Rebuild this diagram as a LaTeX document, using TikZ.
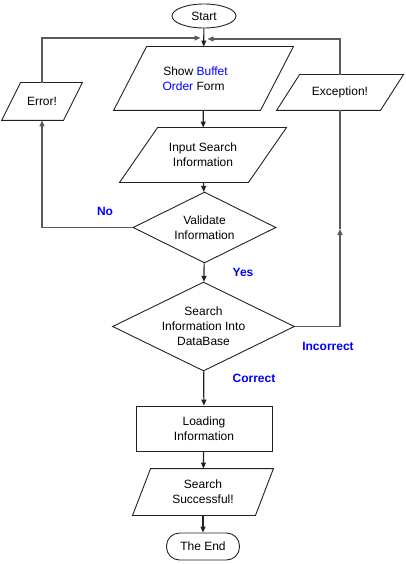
\documentclass[tikz,border=0pt]{standalone}
\usepackage{fontspec}
\setmainfont{Liberation Sans}
\usetikzlibrary{shapes.geometric, arrows.meta, positioning, calc}
\definecolor{labelblue}{HTML}{0000FF}
\definecolor{linegray}{HTML}{5A5A5A}
\definecolor{edgeblack}{HTML}{222222}

\tikzset{
  basebox/.style={draw=edgeblack, line width=0.9pt, inner sep=0pt, align=center,
    font=\fontsize{12}{15}\selectfont},
  iobox/.style={basebox, draw=none, rectangle},
  decision/.style={basebox, diamond, aspect=2},
  process/.style={basebox, rectangle},
  terminal/.style={basebox, ellipse},
  edgeline/.style={draw=edgeblack, line width=0.9pt},
  flow/.style={draw=linegray, line width=1.2pt, -{Triangle[length=6pt,width=5pt]}},
  spine/.style={flow, draw=edgeblack},
  plainflow/.style={draw=linegray, line width=1.2pt},
  answer/.style={text=labelblue, font=\fontsize{12}{14}\selectfont\bfseries}
}

% slanted outline round an io node: #1 node, #2 slant
\newcommand\iooutline[2]{%
  \draw[edgeline] ($(#1.south west)+(-#2/2,0)$) -- ($(#1.south east)+(-#2/2,0)$)
    -- ($(#1.north east)+(#2/2,0)$) -- ($(#1.north west)+(#2/2,0)$) -- cycle;}

\begin{document}
\begin{tikzpicture}[x=1pt, y=-1pt]
  \useasboundingbox (0,0) rectangle (406,564);

  % shapes
  \node[terminal, minimum width=64pt, minimum height=24pt] (start) at (204,16) {Start};
  \node[iobox, minimum width=146pt, minimum height=63pt] (showform) at (203.5,78.5)
        {Show \textcolor{labelblue}{Buffet}\hspace*{16pt}\\\textcolor{labelblue}{Order} Form\hspace*{20pt}};
  \node[iobox, minimum width=61pt, minimum height=37pt] (error) at (42,101.5) {Error!};
  \node[iobox, minimum width=103pt, minimum height=35pt] (exception) at (340,92.5) {Exception!};
  \node[iobox, minimum width=128pt, minimum height=54pt] (input) at (203,155) {Input Search\\Information};
  \node[decision, minimum width=143pt, minimum height=71pt] (validate) at (204.5,227.5)
        {Validate\\Information};
  \node[decision, minimum width=182pt, minimum height=89pt] (search) at (203.5,326.5)
        {Search\\Information Into\\DataBase};
  \node[process, minimum width=136pt, minimum height=45pt] (loading) at (204,428.5)
        {Loading\\Information};
  \node[iobox, minimum width=122pt, minimum height=46pt] (success) at (203,492)
        {Search\\Successful!};
  \node[process, rounded corners=13pt, minimum width=73pt, minimum height=27pt] (theend) at (203,546.5)
        {The End};

  \iooutline{showform}{33}
  \iooutline{error}{19}
  \iooutline{exception}{23}
  \iooutline{input}{38}
  \iooutline{success}{18}

  % junction points
  \coordinate (joinL) at (200.5,38);
  \coordinate (joinR) at (207.5,39);
  \coordinate (excmid) at (340,229);

  % connectors
  \draw[spine] (start) -- (showform);
  \draw[flow] (error.north) |- (joinL);
  \draw[flow] (exception.north) |- (joinR);
  \draw[spine] (showform) -- (input);
  \draw[spine] (input) -- (validate);
  \draw[flow] (validate.west) -| (error.south);
  \draw[spine] (validate) -- (search);
  \draw[flow] (search.east) -| (excmid);
  \draw[plainflow] (excmid) -- (exception.south);
  \draw[spine] (search) -- (loading);
  \draw[spine] (loading) -- (success);
  \draw[spine] (success) -- (theend);

  % answers
  \node[answer] (no) at (105,211) {No};
  \node[answer] (yes) at (243,272) {Yes};
  \node[answer] (incorrect) at (328,346) {Incorrect};
  \node[answer] (correct) at (254,378) {Correct};
\end{tikzpicture}
\end{document}
